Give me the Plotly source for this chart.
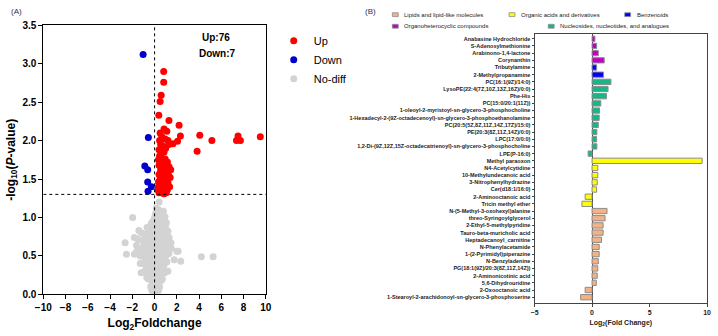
import plotly.graph_objects as go

# ---------------- Volcano data (A) ----------------
up_x = [0.82, 0.82, 0.59, 0.50, 0.38, 1.29, 2.20, 2.32, 2.06, 1.65, 4.06, 5.15, 3.82, 7.50, 7.36, 7.71, 9.50,
        0.50, 0.85, 1.10, 0.65, 0.95, 0.45, 1.20,
        0.55, 0.75, 1.00, 0.40, 0.85, 1.30,
        0.45, 0.60, 0.95, 0.35, 1.15,
        0.40, 0.70, 1.00, 1.30, 0.55, 0.85, 1.15, 1.45,
        0.40, 0.65, 0.95, 1.25, 0.50, 0.80, 1.10, 1.40,
        0.35, 0.60, 0.90, 1.20, 0.45, 0.75, 1.05, 1.35,
        0.30, 0.50, 0.70, 0.95, 1.15, 0.40, 0.60, 0.85, 1.05, 0.35, 0.55, 0.78,
        0.60, 0.90, 0.70, 0.50, 1.00]
up_y = [2.90, 2.76, 2.59, 2.51, 2.33, 2.26, 2.20, 2.06, 1.99, 1.96, 2.07, 2.00, 1.86, 2.06, 2.00, 2.00, 2.05,
        2.10, 2.15, 2.12, 2.05, 2.02, 2.00, 2.00,
        1.95, 1.93, 1.90, 1.88, 1.85, 1.95,
        1.80, 1.78, 1.76, 1.75, 1.72,
        1.68, 1.66, 1.65, 1.66, 1.62, 1.60, 1.62, 1.62,
        1.56, 1.55, 1.54, 1.55, 1.50, 1.50, 1.50, 1.52,
        1.46, 1.45, 1.44, 1.45, 1.42, 1.40, 1.41, 1.40,
        1.36, 1.37, 1.36, 1.35, 1.36, 1.32, 1.32, 1.31, 1.32, 1.40, 1.34, 1.34,
        1.70, 1.72, 1.85, 1.58, 1.38]

down_x = [-1.03, -0.56, -0.88, -0.62, -0.62, -0.29, -0.59]
down_y = [3.12, 2.04, 1.67, 1.62, 1.46, 1.40, 1.34]

nodiff_x = [-1.97, -2.65, -2.53, -1.82, -1.41, -0.68, -1.29, 4.20, 5.26, 2.12, 2.35, 1.76, 1.29, 1.47, 1.06,
            0.94, 0.79, 0.41, 1.06, -1.21, -1.12, -1.62, -1.82, 2.00, 1.20,
            0.10, 0.30, 0.55, 0.70, 0.45, 0.20, 0.90, 0.00,
            -0.30, -0.10, 0.15, 0.35, 0.60, 0.80, 1.00, -0.50,
            -1.20, -0.90, -0.60, -0.35, -0.10, 0.20, 0.45, 0.70, 0.90, 1.20,
            -1.50, -1.10, -0.80, -0.50, -0.25, 0.05, 0.30, 0.55, 0.80, 1.05, 1.30,
            -1.40, -1.00, -0.70, -0.40, -0.15, 0.10, 0.35, 0.60, 0.85, 1.10, 1.50, -1.60,
            -1.30, -0.90, -0.60, -0.30, 0.00, 0.25, 0.50, 0.75, 1.00, -0.45, 0.15, 0.65,
            -1.00, -0.70, -0.40, -0.15, 0.10, 0.35, 0.60, 0.85, 1.10,
            -0.90, -0.60, -0.35, -0.10, 0.15, 0.40, 0.65, 0.90, -0.75,
            -0.55, -0.30, -0.05, 0.20, 0.45, 0.70, -0.70,
            -0.35, -0.15, 0.05, 0.25, 0.45, -0.25,
            0.00, -0.10, 0.10, 0.15, -0.20,
            0.20, 0.40, 0.30, -0.20, 0.50, 0.00, -0.25, 0.30, 0.60, 0.85,
            0.25, 0.50, 0.60, 0.35, 0.15,
            -0.80, -0.55, -0.20, 0.10, 0.40, 0.70, 0.95, -0.90, -0.65, -0.30, 0.05, 0.30, 0.55, 0.80,
            -0.50, -0.20, 0.20, 0.45, 0.75, -0.45, -0.10, 0.10, 0.55, 0.35, 0.10, -0.10, 0.25, 0.05,
            -0.05, 0.25, -0.40, 0.50, 0.10, -0.15, 0.75, 0.40, 0.65, 1.15, 0.95, -0.35, 0.60, 0.35]
nodiff_y = [1.00, 0.67, 0.52, 0.52, 0.83, 0.87, 0.40, 0.49, 0.49, 0.56, 0.43, 0.45, 0.53, 0.67, 0.77,
            1.01, 1.08, 1.20, 0.93, 0.28, 0.55, 0.64, 0.74, 0.56, 0.30,
            1.05, 1.02, 1.06, 1.00, 0.98, 0.95, 0.96, 1.00,
            0.92, 0.90, 0.88, 0.90, 0.92, 0.88, 0.86, 0.85,
            0.80, 0.78, 0.80, 0.82, 0.78, 0.80, 0.82, 0.78, 0.80, 0.82,
            0.72, 0.70, 0.72, 0.70, 0.68, 0.70, 0.72, 0.68, 0.70, 0.70, 0.74,
            0.60, 0.62, 0.58, 0.60, 0.62, 0.60, 0.58, 0.62, 0.60, 0.60, 0.60, 0.56,
            0.50, 0.48, 0.52, 0.50, 0.48, 0.52, 0.50, 0.48, 0.50, 0.45, 0.45, 0.45,
            0.40, 0.38, 0.40, 0.38, 0.40, 0.38, 0.40, 0.38, 0.42,
            0.30, 0.28, 0.30, 0.28, 0.30, 0.28, 0.30, 0.28, 0.33,
            0.20, 0.18, 0.20, 0.18, 0.20, 0.20, 0.22,
            0.10, 0.12, 0.10, 0.12, 0.10, 0.05,
            0.02, 0.04, 0.04, 0.07, 0.08,
            0.65, 0.55, 0.85, 0.55, 0.35, 0.35, 0.25, 0.25, 0.75, 0.55,
            0.99, 0.93, 1.03, 1.10, 1.12,
            0.55, 0.65, 0.75, 0.75, 0.65, 0.58, 0.65, 0.65, 0.45, 0.42, 0.55, 0.45, 0.55, 0.45,
            0.35, 0.32, 0.35, 0.32, 0.35, 0.25, 0.22, 0.25, 0.25, 0.15, 0.16, 0.15, 0.06, 0.20,
            0.65, 0.58, 0.75, 0.88, 0.85, 0.95, 0.92, 0.76, 0.85, 0.70, 0.74, 0.55, 0.18, 0.05]

# ---------------- Bar data (B) ----------------
categories = [
    "Anabasine Hydrochloride", "S-Adenosylmethionine", "Arabinono-1,4-lactone", "Corynanthin",
    "Tributylamine", "2-Methylpropanamine",
    "PC(16:1(9Z)/14:0)", "LysoPE(22:4(7Z,10Z,13Z,16Z)/0:0)", "Phe-His", "PC(15:0/20:1(11Z))",
    "1-oleoyl-2-myristoyl-sn-glycero-3-phosphocholine",
    "1-Hexadecyl-2-(9Z-octadecenoyl)-sn-glycero-3-phosphoethanolamine",
    "PC(20:5(5Z,8Z,11Z,14Z,17Z)/15:0)", "PE(20:3(8Z,11Z,14Z)/0:0)", "LPC(17:0/0:0)",
    "1,2-Di-(9Z,12Z,15Z-octadecatrienoyl)-sn-glycero-3-phosphocholine", "LPE(P-16:0)",
    "Methyl paraoxon", "N4-Acetylcytidine", "10-Methylundecanoic acid", "3-Nitrophenylhydrazine",
    "Cer(d18:1/16:0)", "2-Aminooctanoic acid", "Tricin methyl ether",
    "N-(5-Methyl-3-oxohexyl)alanine", "threo-Syringoylglycerol", "2-Ethyl-5-methylpyridine",
    "Tauro-beta-muricholic acid", "Heptadecanoyl_carnitine", "N-Phenylacetamide",
    "1-(2-Pyrimidyl)piperazine", "N-Benzyladenine", "PG(18:1(9Z)/20:3(8Z,11Z,14Z))",
    "2-Aminonicotinic acid", "5,6-Dihydrouridine", "2-Oxooctanoic acid",
    "1-Stearoyl-2-arachidonoyl-sn-glycero-3-phosphoserine",
]
values = [0.25, 0.40, 0.54, 1.06,
          0.40, 1.00,
          1.64, 1.39, 1.25, 0.76, 0.65, 0.62, 0.54, 0.42, 0.40, 0.42, -0.34,
          9.57, 0.50, 0.50, 0.45, 0.40, -0.60, -0.88,
          1.30, 1.13, 0.96, 0.96, 0.82, 0.62, 0.62, 0.54, 0.50, 0.45, 0.37, -0.60, -0.99]
groups = ["Organoheterocyclic compounds"] * 4 + ["Benzenoids"] * 2 + \
         ["Nucleosides, nucleotides, and analogues"] * 11 + ["Organic acids and derivatives"] * 7 + \
         ["Lipids and lipid-like molecules"] * 13
group_names = ["Lipids and lipid-like molecules", "Organic acids and derivatives", "Benzenoids",
               "Organoheterocyclic compounds", "Nucleosides, nucleotides, and analogues"]
group_colors = {"Lipids and lipid-like molecules": "#f4b183",
                "Organic acids and derivatives": "#ffff00",
                "Benzenoids": "#0000ff",
                "Organoheterocyclic compounds": "#c000c8",
                "Nucleosides, nucleotides, and analogues": "#14b886"}

W, H = 718, 336
def px_x(p): return p / W
def px_y(p): return 1 - p / H

FONT = "Arial, Liberation Sans, sans-serif"

fig = go.Figure()
fig.add_trace(go.Scatter(x=nodiff_x, y=nodiff_y, mode="markers", name="No-diff", legendrank=3,
                         marker=dict(color="#d3d3d3", size=7), xaxis="x", yaxis="y"))
fig.add_trace(go.Scatter(x=up_x, y=up_y, mode="markers", name="Up", legendrank=1,
                         marker=dict(color="#ff0000", size=7), xaxis="x", yaxis="y"))
fig.add_trace(go.Scatter(x=down_x, y=down_y, mode="markers", name="Down", legendrank=2,
                         marker=dict(color="#0000cc", size=7), xaxis="x", yaxis="y"))

for g in group_names:
    xs = [v for v, gg in zip(values, groups) if gg == g]
    ys = [c for c, gg in zip(categories, groups) if gg == g]
    fig.add_trace(go.Bar(x=xs, y=ys, orientation="h", name=g, showlegend=False, width=0.74,
                         marker=dict(color=group_colors[g], line=dict(color="#8c8c8c", width=1)),
                         xaxis="x2", yaxis="y2"))

# reference lines
fig.add_shape(type="line", xref="x", yref="y", x0=0, x1=0, y0=0, y1=3.5,
              line=dict(color="black", width=1, dash="dot"))
fig.add_shape(type="line", xref="x", yref="y", x0=-10, x1=10, y0=1.3, y1=1.3,
              line=dict(color="black", width=1, dash="dot"))

# bar legend (manual)
leg = [("Lipids and lipid-like molecules", 392, 9), ("Organic acids and derivatives", 511, 9),
       ("Benzenoids", 629, 9), ("Organoheterocyclic compounds", 392, 21),
       ("Nucleosides, nucleotides, and analogues", 551, 21)]
for name, lx, ly in leg:
    fig.add_shape(type="rect", xref="paper", yref="paper",
                  x0=px_x(lx), x1=px_x(lx + 6), y0=px_y(ly + 2), y1=px_y(ly - 2),
                  fillcolor=group_colors[name], line=dict(color="#8c8c8c", width=0.8))
    fig.add_annotation(xref="paper", yref="paper", x=px_x(lx + 10), y=px_y(ly), text=name,
                       showarrow=False, xanchor="left", yanchor="middle",
                       font=dict(family=FONT, size=6, color="#222"))

fig.add_annotation(xref="paper", yref="paper", x=px_x(1), y=px_y(6), text="(A)", showarrow=False,
                   xanchor="left", yanchor="middle", font=dict(family=FONT, size=8, color="#333"))
fig.add_annotation(xref="paper", yref="paper", x=px_x(362), y=px_y(6), text="(B)", showarrow=False,
                   xanchor="left", yanchor="middle", font=dict(family=FONT, size=8, color="#333"))
fig.add_annotation(xref="paper", yref="paper", x=px_x(212), y=px_y(33), text="<b>Up:76</b>",
                   showarrow=False, xanchor="center", yanchor="middle",
                   font=dict(family=FONT, size=10, color="black"))
fig.add_annotation(xref="paper", yref="paper", x=px_x(214), y=px_y(49), text="<b>Down:7</b>",
                   showarrow=False, xanchor="center", yanchor="middle",
                   font=dict(family=FONT, size=10, color="black"))

fig.update_layout(
    width=W, height=H, margin=dict(l=0, r=0, t=0, b=0),
    paper_bgcolor="white", plot_bgcolor="white",
    font=dict(family=FONT, color="black"),
    legend=dict(x=px_x(271), y=px_y(21), xanchor="left", yanchor="top",
                font=dict(family=FONT, size=11, color="black"), itemwidth=30,
                bgcolor="rgba(0,0,0,0)", tracegroupgap=0),
    xaxis=dict(domain=[px_x(36), px_x(263)], range=[-10, 10], tickmode="array",
               tickvals=[-10, -8, -6, -4, -2, 0, 2, 4, 6, 8, 10],
               ticks="outside", ticklen=4, tickcolor="black", showline=True, linecolor="black",
               linewidth=1, mirror=True, showgrid=False, zeroline=False,
               tickfont=dict(family=FONT, size=10, weight="bold"),
               title=dict(text="Log<sub>2</sub>Foldchange", standoff=6,
                          font=dict(family=FONT, size=12, weight="bold"))),
    yaxis=dict(domain=[px_y(299), px_y(20)], range=[0, 3.5], dtick=0.5, tickformat=".1f",
               ticks="outside", ticklen=4, tickcolor="black", showline=True, linecolor="black",
               linewidth=1, mirror=True, showgrid=False, zeroline=False,
               tickfont=dict(family=FONT, size=10, weight="bold"),
               title=dict(text="-log<sub>10</sub>(<i>P</i>-value)", standoff=4,
                          font=dict(family=FONT, size=12, weight="bold"))),
    xaxis2=dict(domain=[px_x(537), px_x(713)], range=[-5, 10], tickvals=[-5, 0, 5, 10],
                anchor="y2", ticks="outside", ticklen=3, tickcolor="#444", showline=True,
                linecolor="#444", linewidth=1, mirror=True, showgrid=False,
                zeroline=True, zerolinecolor="#444", zerolinewidth=1,
                tickfont=dict(family=FONT, size=7, weight="bold", color="#222"),
                title=dict(text="Log<sub>2</sub>(Fold Change)", standoff=4,
                           font=dict(family=FONT, size=7, weight="bold", color="#222"))),
    yaxis2=dict(domain=[px_y(308), px_y(29)], anchor="x2", type="category",
                categoryorder="array", categoryarray=categories, range=[36.81, -0.67],
                ticks="outside", ticklen=2, tickcolor="#444", showline=True, linecolor="#444",
                linewidth=1, mirror=True, showgrid=False,
                tickfont=dict(family=FONT, size=5.5, weight="bold", color="#222")),
)

fig.write_html("out.html")
